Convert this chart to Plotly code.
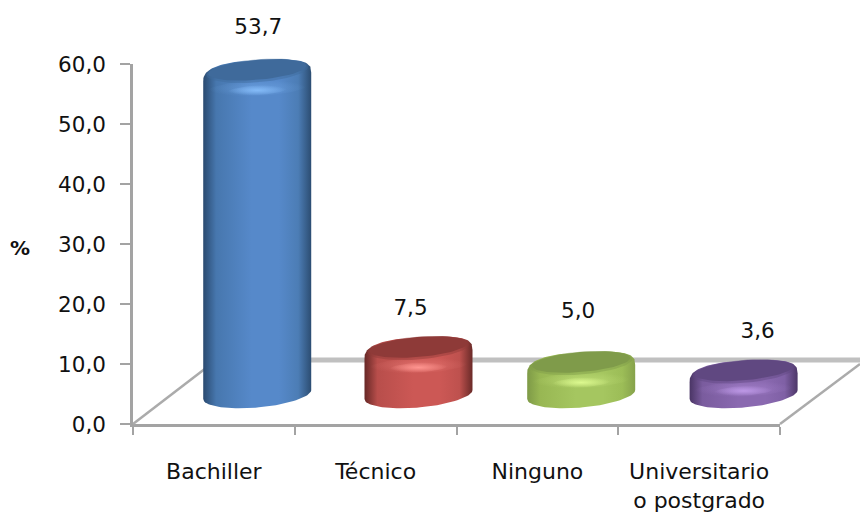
import numpy as np
import plotly.graph_objects as go

categories = ["Bachiller", "Técnico", "Ninguno", "Universitario<br>o postgrado"]
values = [53.7, 7.5, 5.0, 3.6]
value_labels = ["53,7", "7,5", "5,0", "3,6"]
y_ticks = [0, 10, 20, 30, 40, 50, 60]

# per-bar styling
cat_pos = [0.5, 1.5, 2.5, 3.5]
depth_shift = [0.268, 0.265, 0.271, 0.275]
label_dx = [1, -8, -3, 14]          # px
label_dy = [34, 30, 42, 30]         # px above top corner line
edge_l = ["#2A4A70", "#672826", "#7E9A47", "#4A3565"]
mid_l = ["#4777AE", "#B84E4B", "#98B753", "#7A5C9E"]
mid = ["#5689CA", "#CC5855", "#A5C660", "#8A69B0"]
mid_r = ["#4C7DB5", "#BE514E", "#9CBD57", "#7F60A5"]
edge_r = ["#2C4D72", "#6A2A28", "#86A24B", "#4D3768"]
cap = ["#3F6A9B", "#8E3A38", "#7F9B4A", "#604881"]
glow = ["#84BBF8", "#FF9590", "#DCF98F", "#BD98E6"]
gridline = "#A3A3A3"

PXX = 161.75   # px per x unit
PXY = 6.0      # px per y unit
W, H = 860, 513
X0, Y0 = 133, 424
X1, Y1 = 780, 64


def ellipse(cx, cy, a, b, tilt, t, pw=1.0):
    c, s = np.cos(t), np.sin(t)
    xp = np.sign(c) * np.abs(c) ** pw
    yp = np.sign(s) * np.abs(s) ** pw
    return cx + a / PXX * xp, cy + (b * yp + tilt * c) / PXY


fig = go.Figure()

# real axes
fig.add_trace(go.Bar(x=cat_pos, y=values, marker=dict(opacity=0), hoverinfo="skip", showlegend=False))

# floor and back wall
fw = dict(xaxis="x2", yaxis="y2", mode="lines", hoverinfo="skip", showlegend=False)
d = lambda px, py: ((px - X0) / PXX, (Y0 - py) / PXY)
for (p, q, col, wd) in [
    ((133, 424), (206, 368), "#ABABAB", 2.5),
    ((780, 424), (860, 364), "#ABABAB", 2.5),
    ((205, 360), (860, 360), "#C0C0C0", 5),
]:
    a, b = d(*p), d(*q)
    fig.add_trace(go.Scatter(x=[a[0], b[0]], y=[a[1], b[1]], line=dict(color=col, width=wd), **fw))

BASE = (Y0 - 394.5) / PXY   # centre of bottom ellipse, data units
for i, v in enumerate(values):
    cx = cat_pos[i] + depth_shift[i]
    yc = BASE + v - 5 / PXY
    # body
    tb = np.linspace(np.pi, 2 * np.pi, 50)
    xb, yb = ellipse(cx, BASE, 54, 13, 4.5, tb)
    tt = np.linspace(0, np.pi, 60)
    xt, yt = ellipse(cx, yc, 54, 17, 4.5, tt, pw=0.7)
    scale = [[0, edge_l[i]], [0.12, mid_l[i]], [0.45, mid[i]], [0.7, mid[i]], [0.88, mid_r[i]], [1, edge_r[i]]]
    fig.add_trace(go.Scatter(
        x=np.r_[xb, xt], y=np.r_[yb, yt], fill="toself", line=dict(width=0),
        fillgradient=dict(type="horizontal", colorscale=scale), **fw))
    t = np.linspace(0, 2 * np.pi, 60)
    col = glow[i]
    r, g, b = int(col[1:3], 16), int(col[3:5], 16), int(col[5:7], 16)
    # broad soft band, then narrow glow under the cap
    xg, yg = ellipse(cx, yc - 11 / PXY, 50, 8, 3, t)
    fig.add_trace(go.Scatter(
        x=xg, y=yg, fill="toself", line=dict(width=0),
        fillgradient=dict(type="radial", colorscale=[[0, f"rgba({r},{g},{b},0.35)"], [1, f"rgba({r},{g},{b},0)"]]), **fw))
    xg, yg = ellipse(cx, yc - 13 / PXY, 30, 5, 2, t)
    fig.add_trace(go.Scatter(
        x=xg, y=yg, fill="toself", line=dict(width=0),
        fillgradient=dict(type="radial", colorscale=[[0, f"rgba({r},{g},{b},1)"], [1, f"rgba({r},{g},{b},0)"]]), **fw))
    # soft edge and top cap
    xc, yc2 = ellipse(cx, yc + 6.5 / PXY, 51, 11.5, 4, t)
    fig.add_trace(go.Scatter(x=xc, y=yc2, fill="toself", fillcolor=cap[i], opacity=0.45, line=dict(width=0), **fw))
    xc, yc2 = ellipse(cx, yc + 7.5 / PXY, 49, 10, 4, t)
    fig.add_trace(go.Scatter(x=xc, y=yc2, fill="toself", fillcolor=cap[i], line=dict(width=0), **fw))

# data labels
lx = [cat_pos[i] + depth_shift[i] + label_dx[i] / PXX for i in range(4)]
ly = [BASE + values[i] + label_dy[i] / PXY - 5 / PXY + 2.5 for i in range(4)]
fig.add_trace(go.Scatter(x=lx, y=ly, mode="text", text=value_labels, textposition="middle center",
                         textfont=dict(size=21.5, color="#111111", family="DejaVu Sans"),
                         xaxis="x2", yaxis="y2", hoverinfo="skip", showlegend=False))

font = dict(family="DejaVu Sans", size=21.5, color="#111111")
xfont = dict(family="DejaVu Sans", size=22, color="#111111")
fig.update_layout(
    width=W, height=H, margin=dict(l=0, r=0, t=0, b=0, autoexpand=False),
    paper_bgcolor="white", plot_bgcolor="rgba(0,0,0,0)",
    separators=",.", showlegend=False, font=font,
    xaxis=dict(domain=[X0 / W, X1 / W], range=[0, 4], tickmode="array", tickvals=cat_pos, ticktext=categories,
               ticks="", showgrid=False, zeroline=False, showline=True, linecolor=gridline, linewidth=2.5,
               ticklabelstandoff=26, tickfont=xfont, anchor="y",
               minor=dict(tickmode="array", tickvals=[0, 1, 2, 3, 4], ticks="outside", ticklen=8, tickwidth=2,
                          tickcolor=gridline, showgrid=False)),
    yaxis=dict(domain=[(H - Y0) / H, (H - Y1) / H], range=[0, 60], tickmode="array", tickvals=y_ticks,
               tickformat=".1f", ticks="outside", ticklen=10, tickwidth=2, tickcolor=gridline,
               ticklabelstandoff=10, showgrid=False, zeroline=False, showline=True, linecolor=gridline, linewidth=2.5,
               tickfont=font, anchor="x"),
    xaxis2=dict(domain=[0, 1], range=[-X0 / PXX, (W - X0) / PXX], visible=False, anchor="y2"),
    yaxis2=dict(domain=[0, 1], range=[(Y0 - H) / PXY, Y0 / PXY], visible=False, anchor="x2"),
    annotations=[dict(text="<b>%</b>", xref="paper", yref="paper", x=20 / W, y=(H - 248) / H, showarrow=False,
                      xanchor="center", yanchor="middle",
                      font=dict(family="DejaVu Sans", size=20, color="#111111"))],
)

fig.write_html("out.html", config=dict(displayModeBar=False), post_script="document.body.style.margin='0';")
